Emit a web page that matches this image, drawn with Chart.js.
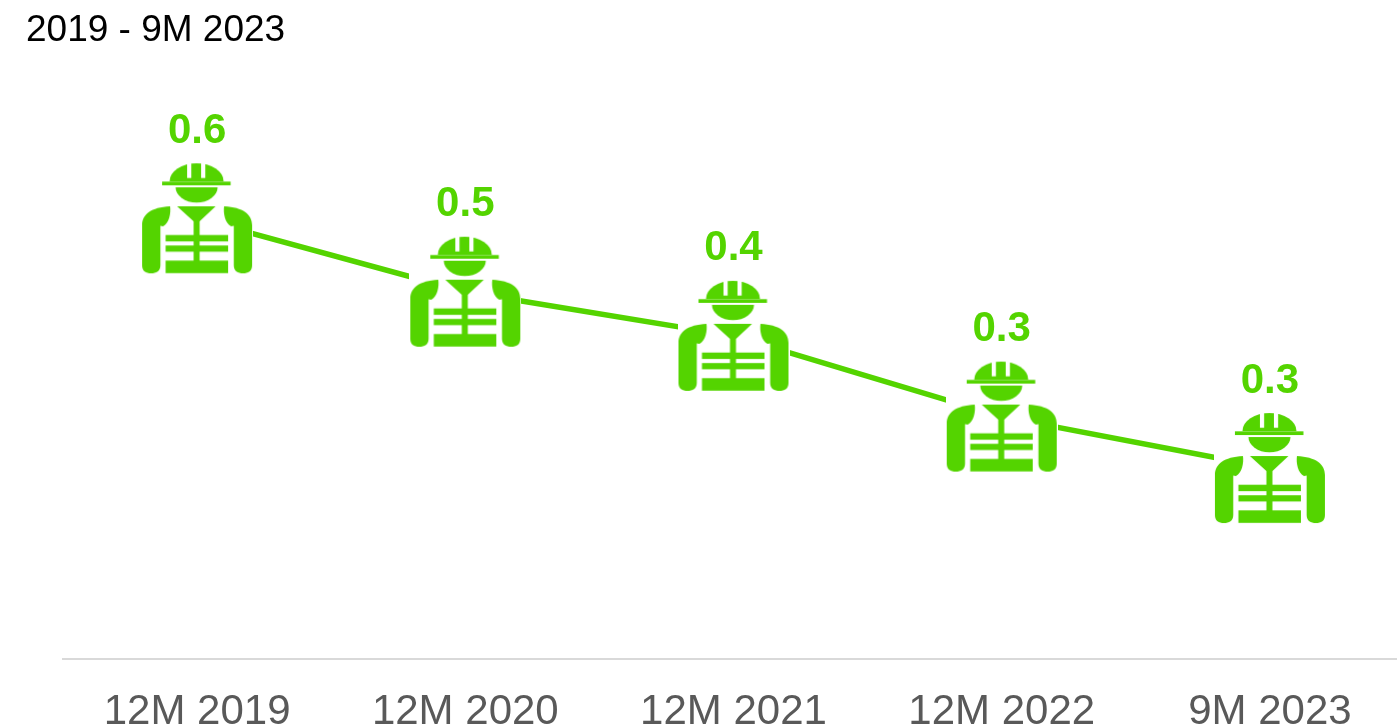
<!DOCTYPE html>
<html>
<head>
<meta charset="utf-8">
<style>html,body{margin:0;padding:0;background:#fff;overflow:hidden;width:1397px;height:728px}canvas{display:block}</style>
<script src="https://cdn.jsdelivr.net/npm/chart.js@4"></script>
</head>
<body>
<canvas id="c" width="1404" height="728"></canvas>
<script>
const categories = ['12M 2019', '12M 2020', '12M 2021', '12M 2022', '9M 2023'];
const values = [0.60, 0.50, 0.44, 0.33, 0.26];
const titleText = '2019 - 9M 2023';
const GREEN = '#54d400';
const FONT = '"Liberation Sans", Arial, sans-serif';

function workerIcon() {
  const m = 1, S = 110;
  const cv = document.createElement('canvas');
  cv.width = S + 2 * m; cv.height = S + 2 * m;
  const g = cv.getContext('2d');
  g.fillStyle = '#fff';
  g.fillRect(0, 0, cv.width, cv.height);
  g.translate(m, m);
  g.fillStyle = GREEN;
  // helmet
  g.beginPath();
  g.ellipse(54.5, 18, 27, 18, 0, Math.PI, 2 * Math.PI);
  g.closePath();
  g.fill();
  g.fillRect(20, 18.3, 68.5, 3.7);
  // helmet slots
  g.fillStyle = '#fff';
  g.fillRect(45, 0, 4.2, 14.7);
  g.fillRect(59, 0, 4.2, 14.7);
  g.fillStyle = GREEN;
  // face
  g.beginPath();
  g.ellipse(54.5, 24, 21, 15.3, 0, 0, Math.PI);
  g.closePath();
  g.fill();
  // collar funnel and stem
  g.beginPath();
  g.moveTo(35, 43);
  g.lineTo(73.5, 43);
  g.lineTo(57.5, 58);
  g.lineTo(57.5, 98);
  g.lineTo(51.5, 98);
  g.lineTo(51.5, 58);
  g.closePath();
  g.fill();
  // vest bars
  g.fillRect(23.5, 71.7, 62.5, 6.4);
  g.fillRect(23.5, 82.2, 62.5, 6.2);
  g.fillRect(23.5, 97.3, 62.5, 12.5);
  // arms
  function arm(flip) {
    g.save();
    if (flip) { g.translate(110, 0); g.scale(-1, 1); }
    g.beginPath();
    g.moveTo(0, 62);
    g.bezierCurveTo(0, 51, 9, 44, 28, 43);
    g.bezierCurveTo(29, 50, 27, 60, 21, 63);
    g.lineTo(18.3, 62.5);
    g.lineTo(18.3, 102);
    g.bezierCurveTo(18.3, 108, 14, 110, 9, 110);
    g.bezierCurveTo(4, 110, 0, 108, 0, 102);
    g.closePath();
    g.fill();
    g.restore();
  }
  arm(false); arm(true);
  return cv;
}

const valueLabels = {
  id: 'valueLabels',
  afterDatasetsDraw(chart) {
    const ctx = chart.ctx;
    const pts = chart.getDatasetMeta(0).data;
    ctx.save();
    ctx.font = 'bold 42px ' + FONT;
    ctx.fillStyle = GREEN;
    ctx.textAlign = 'center';
    ctx.textBaseline = 'middle';
    pts.forEach((p, i) => ctx.fillText(values[i].toFixed(1), p.x, p.y - 87));
    ctx.restore();
  }
};

new Chart(document.getElementById('c'), {
  type: 'line',
  data: {
    labels: categories,
    datasets: [{
      data: values,
      borderColor: GREEN,
      borderWidth: 5.5,
      tension: 0,
      fill: false,
      pointStyle: workerIcon(),
      pointRadius: 55,
      pointHoverRadius: 55,
      clip: false
    }]
  },
  options: {
    responsive: false,
    animation: false,
    layout: { autoPadding: false, padding: { left: 26, top: 9, right: 0, bottom: 0 } },
    plugins: {
      legend: { display: false },
      tooltip: { enabled: false },
      title: {
        display: true,
        text: titleText,
        align: 'start',
        color: '#000',
        font: { family: FONT, size: 37, weight: 'normal' },
        padding: { top: 0, bottom: 18 }
      }
    },
    scales: {
      x: {
        offset: true,
        grid: { display: false, drawTicks: false },
        border: { color: '#d9d9d9', width: 2 },
        ticks: {
          color: '#595959',
          font: { family: FONT, size: 42 },
          padding: 28,
          maxRotation: 0,
          autoSkip: false
        },
        afterFit(s) { s.height = 69; }
      },
      y: {
        min: 0,
        max: 0.8,
        grid: { display: false, drawTicks: false },
        border: { display: false },
        ticks: { display: false },
        afterFit(s) { s.width = 37; }
      }
    }
  },
  plugins: [valueLabels]
});
</script>
</body>
</html>
